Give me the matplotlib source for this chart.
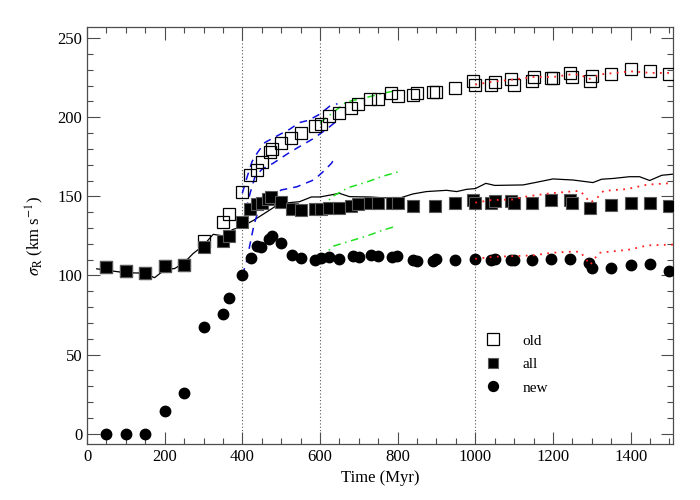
import numpy as np
import matplotlib
matplotlib.use("Agg")
import matplotlib.pyplot as plt
from matplotlib.ticker import MultipleLocator

plt.rcParams["font.family"] = ["Liberation Serif", "DejaVu Serif"]
plt.rcParams["mathtext.fontset"] = "stix"

# old stars (open squares)
old_t = [50, 100, 150, 200, 250, 300, 350, 365, 400, 420, 437, 450, 470, 477, 500, 526, 550, 586, 602, 622,
         649, 680, 697, 730, 750, 782, 800, 840, 850, 890, 900, 947, 995, 1000, 1041, 1050, 1091, 1099, 1145, 1150,
         1196, 1200, 1245, 1250, 1296, 1300, 1350, 1400, 1450, 1500]
old_v = [105.2, 102.8, 101.8, 106.2, 106.4, 122, 133.5, 139, 152.5, 163.3, 166.6, 172, 178, 179.7, 183.5, 186.7,
         190.3, 194.5, 195.6, 200.8, 202.9, 205.9, 208.2, 211.4, 211.6, 215, 213.3, 213.9, 215.4, 215.8, 215.8,
         218.3, 222.9, 220.6, 220.2, 222.3, 224, 220.2, 222.9, 225.4, 225, 225, 228, 225.4, 222.9, 226, 227.3,
         230.3, 229.2, 227.6]

# all stars (filled squares)
all_t = [50, 100, 150, 200, 250, 300, 350, 365, 400, 420, 437, 450, 465, 475, 500, 528, 550, 586, 602, 622,
         649, 680, 697, 730, 750, 785, 800, 840, 895, 947, 995, 1000, 1041, 1050, 1091, 1099, 1146, 1196, 1245,
         1250, 1296, 1350, 1400, 1450, 1500]
all_v = [105.2, 102.8, 101.8, 106.2, 106.4, 118.2, 122, 124.9, 133.7, 142, 144.9, 146, 148.4, 149.4, 146.4,
         142.2, 141.1, 142.2, 142.2, 142.8, 142.4, 144, 145, 146, 146, 145.5, 145.5, 144.1, 144.1, 145.5, 147.8,
         146, 145.5, 147, 147, 145.5, 146, 147.8, 147.8, 146, 142.7, 144.5, 145.5, 145.5, 143.8]

# new stars (filled circles)
new_t = [50, 100, 150, 200, 250, 300, 350, 365, 400, 422, 437, 448, 468, 477, 500, 528, 550, 586, 602, 622,
         649, 684, 701, 732, 750, 785, 798, 839, 850, 891, 900, 947, 1000, 1041, 1050, 1091, 1099, 1146, 1196,
         1245, 1292, 1300, 1350, 1400, 1450, 1500]
new_v = [0, 0, 0, 14.5, 25.7, 67.7, 75.5, 86, 100, 111, 118.5, 118.2, 122.8, 124.9, 120.3, 112.7, 111, 109.7,
         111, 111.8, 110.6, 112.2, 111.6, 112.7, 112.2, 111.8, 112.5, 109.7, 109, 109, 110.5, 109.7, 110.5, 109.7,
         110.5, 110, 110, 109.7, 110.5, 110.5, 108, 105, 104.6, 106.5, 107, 103]

# solid reference curve
ref_t = [25, 50, 100, 145, 174, 200, 226, 250, 273, 300, 325, 350, 375, 400, 430, 462, 496, 547, 578, 600, 650,
         676, 728, 753, 804, 839, 874, 926, 952, 977, 1000, 1027, 1050, 1123, 1158, 1200, 1252, 1303, 1325, 1355,
         1397, 1423, 1449, 1480, 1509]
ref_v = [104.2, 103.3, 101.7, 101.5, 98.6, 103.6, 104.4, 108, 113.8, 119, 126, 125, 129, 131, 135, 140, 145.4,
         146.6, 149.6, 149.6, 151.9, 149.8, 149.6, 149.2, 148.8, 151.5, 153, 153.8, 153, 154.4, 154.9, 158.2,
         156.9, 157.2, 158.9, 161, 160.3, 158.7, 160.8, 161.3, 162.4, 162.4, 160, 163.3, 164]

# blue dashed branches starting at 400 Myr
b_new_t = [400, 410, 420, 430, 440, 455, 475, 500, 540, 585, 610, 630, 640]
b_new_v = [100, 108, 120, 132, 140, 145, 150, 154, 156, 160.5, 166, 171, 175.5]
b_all_t = [400, 410, 420, 432, 450, 480, 517, 547, 583, 617, 640]
b_all_v = [133, 142, 152, 162, 167, 171, 177, 181.4, 186.5, 192.4, 197]
b_old_t = [400, 412, 425, 440, 458, 488, 522, 547, 570, 600, 625, 645]
b_old_v = [152, 162, 172, 178, 184, 188, 192.4, 196.6, 198, 202, 207, 208.5]

# green dash-dot branches starting at 600 Myr
g_old_t = [600, 634, 668, 720, 771, 801]
g_old_v = [196.6, 203, 209.7, 212.5, 215.6, 217]
g_all_t = [600, 634, 673, 720, 763, 801]
g_all_v = [142.4, 150.2, 155.5, 159, 162.8, 165.4]
g_new_t = [600, 634, 677, 720, 763, 797]
g_new_v = [110.6, 118.5, 121.7, 124.9, 128.7, 131.2]

# red dotted branches starting at 1000 Myr
r_old_t = [1000, 1041, 1097, 1150, 1200, 1245, 1270, 1292, 1320, 1400, 1451, 1509]
r_old_v = [220.6, 222.3, 223.8, 225.4, 225.4, 227, 227, 224, 227, 229, 228, 228]
r_all_t = [1000, 1040, 1097, 1134, 1196, 1245, 1270, 1296, 1313, 1330, 1391, 1443, 1509]
r_all_v = [146, 147.6, 148, 150, 152, 153, 153.5, 146, 148.8, 153.4, 154.6, 157.4, 158.4]
r_new_t = [1000, 1047, 1097, 1150, 1196, 1245, 1270, 1296, 1318, 1399, 1443, 1509]
r_new_v = [110.5, 111.8, 112.2, 112.7, 114.3, 115, 115, 106.7, 114.3, 116.4, 119, 119.5]

vlines_t = [400, 600, 1000]

fig = plt.figure(figsize=(7, 5), dpi=100)
ax = fig.add_axes([0.1243, 0.112, 0.8371, 0.834])

for t in vlines_t:
    ax.axvline(t, color="0.35", linestyle=(0, (1, 2)), linewidth=0.8, zorder=1)

ax.plot(ref_t, ref_v, color="black", linewidth=0.9, zorder=2)

for bt, bv in [(b_new_t, b_new_v), (b_all_t, b_all_v), (b_old_t, b_old_v)]:
    ax.plot(bt, bv, color="#1010e0", linestyle=(0, (5, 4)), linewidth=1.1, zorder=3)
for gt, gv in [(g_old_t, g_old_v), (g_all_t, g_all_v), (g_new_t, g_new_v)]:
    ax.plot(gt, gv, color="#22e022", linestyle=(0, (5, 3, 1, 3)), linewidth=1.1, zorder=3)
for rt, rv in [(r_old_t, r_old_v), (r_all_t, r_all_v), (r_new_t, r_new_v)]:
    ax.plot(rt, rv, color="#ff2020", linestyle=(0, (1, 3)), linewidth=1.3, zorder=5)

ax.plot(old_t, old_v, linestyle="none", marker="s", markersize=8.5, markerfacecolor="none",
        markeredgecolor="black", markeredgewidth=0.9, label="old", zorder=4)
ax.plot(all_t, all_v, linestyle="none", marker="s", markersize=8, markerfacecolor="black",
        markeredgecolor="0.35", markeredgewidth=0.8, label="all", zorder=4)
ax.plot(new_t, new_v, linestyle="none", marker="o", markersize=7.5, markerfacecolor="black",
        markeredgecolor="black", label="new", zorder=4)

ax.set_xlim(0, 1509)
ax.set_ylim(-6.5, 257)
ax.xaxis.set_major_locator(MultipleLocator(200))
ax.xaxis.set_minor_locator(MultipleLocator(50))
ax.yaxis.set_major_locator(MultipleLocator(50))
ax.yaxis.set_minor_locator(MultipleLocator(10))
ax.tick_params(which="both", direction="in", top=True, right=True, labelsize=12, color="0.3")
ax.tick_params(which="major", length=9, width=0.8)
ax.tick_params(which="minor", length=4.5, width=0.8)
for s in ax.spines.values():
    s.set_color("0.3")
    s.set_linewidth(0.9)

ax.set_xlabel("Time (Myr)", fontsize=12)
ax.set_ylabel(r"$\sigma_{\rm R}$ (km s$^{-1}$)", fontsize=12, labelpad=8)

ax.legend(loc="lower left", bbox_to_anchor=(0.657, 0.085), frameon=False, fontsize=11,
          handletextpad=1.4, labelspacing=0.65, handlelength=1.0, markerscale=0.95)

fig.savefig("out.png", dpi=100)
